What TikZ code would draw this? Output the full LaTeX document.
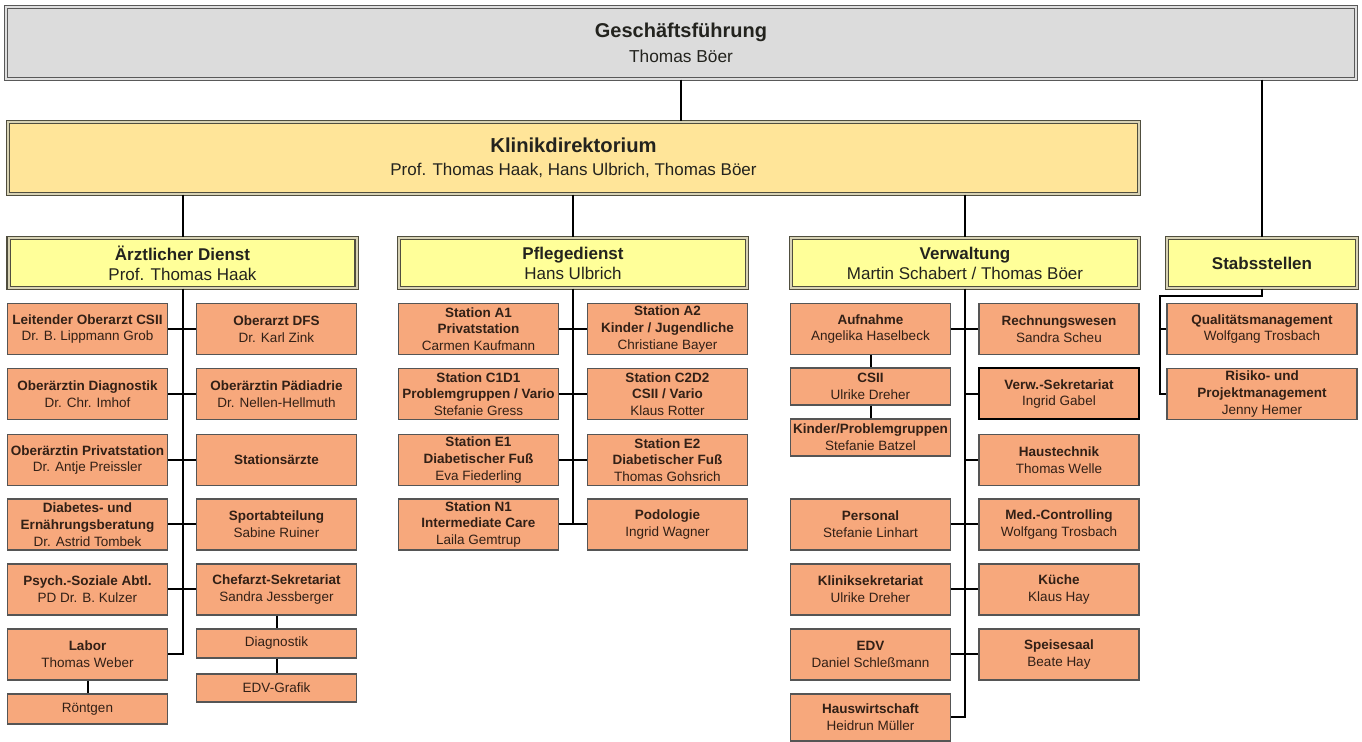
\documentclass[tikz,border=0pt]{standalone}
\usepackage{fontspec}
\setmainfont{Liberation Sans}

\definecolor{gfgrau}{RGB}{220,220,220}
\definecolor{kdgelb}{RGB}{255,229,153}
\definecolor{abtgelb}{RGB}{255,255,153}
\definecolor{lachs}{RGB}{247,168,124}
\definecolor{rahmen}{RGB}{85,85,85}
\definecolor{randdunkel}{RGB}{80,78,62}
\definecolor{randhell}{RGB}{215,210,180}
\definecolor{schrift}{RGB}{50,32,22}
\definecolor{kopfschrift}{RGB}{35,35,30}

\tikzset{
  linie/.style={line width=1pt, black},
  gfbox/.style={rectangle, draw=gray!70!black, double=gray!25, double distance=1pt,
    line width=0.6pt, fill=gfgrau, minimum width=675pt, minimum height=36pt,
    inner sep=0pt, align=center, text=kopfschrift, font=\fontsize{8.65}{12.5}\selectfont},
  kdbox/.style={gfbox, fill=kdgelb, draw=randdunkel, double=randhell,
    minimum width=565.5pt, font=\fontsize{8.5}{11.5}\selectfont},
  abt/.style={rectangle, draw=randdunkel, double=randhell, double distance=1pt,
    line width=0.6pt, fill=abtgelb, minimum width=174pt, minimum height=25pt,
    inner sep=0pt, align=center, text=kopfschrift, font=\fontsize{8.5}{10}\selectfont},
  stelle/.style={rectangle, draw=rahmen, line width=0.6pt, fill=lachs,
    minimum width=80pt, minimum height=25.5pt, inner sep=0pt, align=center,
    text=schrift, font=\fontsize{6.75}{8.35}\selectfont},
  klein/.style={stelle, minimum height=14.5pt},
  stellefett/.style={stelle, draw=black, line width=1pt}
}

\begin{document}
\begin{tikzpicture}[x=0.5pt, y=-0.5pt]
    \useasboundingbox[fill=white] (0,0) rectangle (1362,742);

    % Geschaeftsfuehrung und Klinikdirektorium
    \node[gfbox] (gf) at (681,43)
      {{\fontsize{10}{12.5}\selectfont\textbf{Geschäftsführung}}\\Thomas Böer};
    \node[kdbox] (klinik) at (573.5,158)
      {{\fontsize{10.1}{11.5}\selectfont\textbf{Klinikdirektorium}}\\Prof. Thomas Haak, Hans Ulbrich, Thomas Böer};

    % Abteilungen
    \node[abt] (aerzt) at (182.5,263) {\textbf{Ärztlicher Dienst}\\Prof. Thomas Haak};
    \node[abt] (pflege) at (573,263) {\textbf{Pflegedienst}\\Hans Ulbrich};
    \node[abt] (verw) at (965,263) {\textbf{Verwaltung}\\Martin Schabert / Thomas Böer};
    \node[abt, minimum width=95pt] (stab) at (1262,263) {\textbf{Stabsstellen}};

    % Aerztlicher Dienst
    \node[stelle] (leit) at (87.5,329) {\textbf{Leitender Oberarzt CSII}\\Dr. B. Lippmann Grob};
    \node[stelle] (odiag) at (87.5,394) {\textbf{Oberärztin Diagnostik}\\Dr. Chr. Imhof};
    \node[stelle] (opriv) at (87.5,460) {\textbf{Oberärztin Privatstation}\\Dr. Antje Preissler};
    \node[stelle] (diab) at (87.5,524.5) {\textbf{Diabetes- und}\\\textbf{Ernährungsberatung}\\Dr. Astrid Tombek};
    \node[stelle] (psych) at (87.5,589.5) {\textbf{Psych.-Soziale Abtl.}\\PD Dr. B. Kulzer};
    \node[stelle] (labor) at (87.5,654.5) {\textbf{Labor}\\Thomas Weber};
    \node[klein, minimum height=15pt] (roent) at (87.5,709) {Röntgen};
    \node[stelle] (dfs) at (276.5,329) {\textbf{Oberarzt DFS}\\Dr. Karl Zink};
    \node[stelle] (opaed) at (276.5,394) {\textbf{Oberärztin Pädiadrie}\\Dr. Nellen-Hellmuth};
    \node[stelle] (stat) at (276.5,460) {\textbf{Stationsärzte}};
    \node[stelle] (sport) at (276.5,524.5) {\textbf{Sportabteilung}\\Sabine Ruiner};
    \node[stelle] (chef) at (276.5,589.5) {\textbf{Chefarzt-Sekretariat}\\Sandra Jessberger};
    \node[klein] (diagn) at (276.5,643.5) {Diagnostik};
    \node[klein, minimum height=14pt] (edvg) at (276.5,688) {EDV-Grafik};

    % Pflegedienst
    \node[stelle] (sa1) at (478.5,329) {\textbf{Station A1}\\\textbf{Privatstation}\\Carmen Kaufmann};
    \node[stelle] (sc1) at (478.5,394) {\textbf{Station C1D1}\\\textbf{Problemgruppen / Vario}\\Stefanie Gress};
    \node[stelle] (se1) at (478.5,460) {\textbf{Station E1}\\\textbf{Diabetischer Fuß}\\Eva Fiederling};
    \node[stelle] (sn1) at (478.5,524.5) {\textbf{Station N1}\\\textbf{Intermediate Care}\\Laila Gemtrup};
    \node[stelle] (sa2) at (667.5,329) {\textbf{Station A2}\\\textbf{Kinder / Jugendliche}\\Christiane Bayer};
    \node[stelle] (sc2) at (667.5,394) {\textbf{Station C2D2}\\\textbf{CSII / Vario}\\Klaus Rotter};
    \node[stelle] (se2) at (667.5,460) {\textbf{Station E2}\\\textbf{Diabetischer Fuß}\\Thomas Gohsrich};
    \node[stelle] (podo) at (667.5,524.5) {\textbf{Podologie}\\Ingrid Wagner};

    % Verwaltung
    \node[stelle] (aufn) at (870.5,329) {\textbf{Aufnahme}\\Angelika Haselbeck};
    \node[stelle, minimum height=18.5pt] (csii) at (870.5,386.5) {\textbf{CSII}\\Ulrike Dreher};
    \node[stelle, minimum height=18.5pt] (kind) at (870.5,437.5) {\textbf{Kinder/Problemgruppen}\\Stefanie Batzel};
    \node[stelle] (pers) at (870.5,524.5) {\textbf{Personal}\\Stefanie Linhart};
    \node[stelle] (ksek) at (870.5,589.5) {\textbf{Kliniksekretariat}\\Ulrike Dreher};
    \node[stelle] (edv) at (870.5,654.5) {\textbf{EDV}\\Daniel Schleßmann};
    \node[stelle, minimum height=23.5pt] (hausw) at (870.5,717.5) {\textbf{Hauswirtschaft}\\Heidrun Müller};
    \node[stelle] (rech) at (1059,329) {\textbf{Rechnungswesen}\\Sandra Scheu};
    \node[stellefett] (vsek) at (1059,394) {\textbf{Verw.-Sekretariat}\\Ingrid Gabel};
    \node[stelle] (htech) at (1059,460) {\textbf{Haustechnik}\\Thomas Welle};
    \node[stelle] (medc) at (1059,524.5) {\textbf{Med.-Controlling}\\Wolfgang Trosbach};
    \node[stelle] (kueche) at (1059,589.5) {\textbf{Küche}\\Klaus Hay};
    \node[stelle] (speis) at (1059,654.5) {\textbf{Speisesaal}\\Beate Hay};

    % Stabsstellen
    \node[stelle, minimum width=95pt] (qual) at (1262,329) {\textbf{Qualitätsmanagement}\\Wolfgang Trosbach};
    \node[stelle, minimum width=95pt] (risk) at (1262,394) {\textbf{Risiko- und}\\\textbf{Projektmanagement}\\Jenny Hemer};
    \coordinate (sbus) at (1160,296);

    % Verbindungen oben
    \draw[linie] (gf.south) -- (gf.south |- klinik.north);
    \draw[linie] (gf.south -| stab.north) -- (stab.north);
    \draw[linie] (klinik.south -| aerzt.north) -- (aerzt.north);
    \draw[linie] (klinik.south -| pflege.north) -- (pflege.north);
    \draw[linie] (klinik.south -| verw.north) -- (verw.north);

    % Verbindungen Aerztlicher Dienst
    \draw[linie] (aerzt.south) -- (aerzt.south |- labor.east) -- (labor.east);
    \draw[linie] (leit) -- (dfs);
    \draw[linie] (odiag) -- (opaed);
    \draw[linie] (opriv) -- (stat);
    \draw[linie] (diab) -- (sport);
    \draw[linie] (psych) -- (chef);
    \draw[linie] (chef) -- (diagn);
    \draw[linie] (diagn) -- (edvg);
    \draw[linie] (labor) -- (roent);

    % Verbindungen Pflegedienst
    \draw[linie] (pflege.south) -- (pflege.south |- sn1.east);
    \draw[linie] (sa1) -- (sa2);
    \draw[linie] (sc1) -- (sc2);
    \draw[linie] (se1) -- (se2);
    \draw[linie] (sn1) -- (podo);

    % Verbindungen Verwaltung
    \draw[linie] (verw.south) -- (verw.south |- hausw.east) -- (hausw.east);
    \draw[linie] (aufn) -- (rech);
    \draw[linie] (aufn) -- (csii);
    \draw[linie] (csii) -- (kind);
    \draw[linie] (vsek.west) -- (vsek.west -| verw.south);
    \draw[linie] (htech.west) -- (htech.west -| verw.south);
    \draw[linie] (pers) -- (medc);
    \draw[linie] (ksek) -- (kueche);
    \draw[linie] (edv) -- (speis);

    % Verbindungen Stabsstellen
    \draw[linie] (stab.south) |- (sbus) |- (risk.west);
    \draw[linie] (qual.west) -- (qual.west -| sbus);
\end{tikzpicture}
\end{document}
